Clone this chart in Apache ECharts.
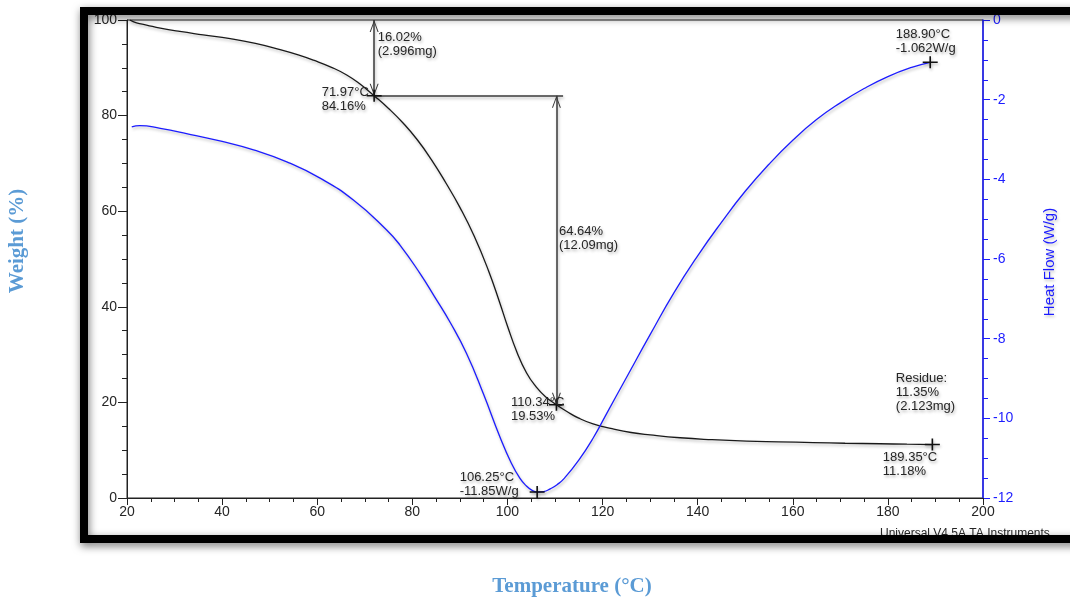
<!DOCTYPE html>
<html>
<head>
<meta charset="utf-8">
<title>TGA / DSC</title>
<script src="https://cdn.jsdelivr.net/npm/echarts@6/dist/echarts.min.js"></script>
<style>
  html, body { margin: 0; padding: 0; background: #fff; }
  #chart { width: 1070px; height: 597px; }
</style>
</head>
<body>
<div id="chart"></div>
<script>
// weight loss curve, [temperature °C, weight %]
const weightCurve = [
  [20.6, 100], [22, 99.4], [24.1, 98.95], [27, 98.3], [31.1, 97.6], [36, 96.9],
  [41.7, 96.1], [47, 95.1], [52.2, 93.8], [56, 92.7], [59.2, 91.6], [63, 90.1],
  [66.2, 88.5], [69, 86.6], [71.97, 84.16], [75, 81.5], [78, 78.5], [81, 75.0],
  [84, 70.8], [87, 66.0], [90, 60.8], [93, 54.8], [96, 47.6], [98.4, 40.8],
  [100, 36.0], [102, 30.5], [104, 26.2], [106, 23.3], [108, 21.2], [110.3, 19.53],
  [112.5, 18.1], [115, 16.7], [118, 15.5], [122, 14.5], [126, 13.7], [130, 13.2],
  [136.3, 12.6], [143, 12.2], [150.3, 11.9], [157, 11.75], [164.3, 11.6],
  [171, 11.45], [178.3, 11.35], [184, 11.25], [189.35, 11.18]
];

// heat flow curve, [temperature °C, W/g]
const heatCurve = [
  [21, -2.68], [22.7, -2.65], [27, -2.72], [32.5, -2.85], [40, -3.05], [46.6, -3.26],
  [53.6, -3.56], [60.6, -3.97], [67.6, -4.52], [74.6, -5.27], [77.4, -5.65], [81.6, -6.36],
  [84.6, -6.93], [88, -7.6], [91.4, -8.37], [94.9, -9.37], [98.4, -10.46], [100.8, -11.12],
  [102.6, -11.5], [104, -11.7], [105.2, -11.81], [106.25, -11.85], [107.6, -11.84],
  [109, -11.77], [110.5, -11.66], [112, -11.5], [115, -11.05],
  [118, -10.5], [121, -9.85], [125, -8.98], [130, -7.9], [135, -6.85], [140, -5.92],
  [145, -5.08], [150, -4.3], [155, -3.62], [160, -3.02], [165, -2.5], [170, -2.08],
  [175, -1.72], [180, -1.42], [185, -1.19], [188.9, -1.062]
];

// step analysis
const stepOnset = [71.97, 84.16];
const stepEnd = [110.3, 19.53];
const residuePoint = [189.35, 11.18];
const stepTop = 100;
const stepRight = 111.7;
const peakPoint = [106.25, -11.85];
const endHeat = [188.9, -1.062];

const labelOnset = '71.97°C\n84.16%';
const labelEnd = '110.34°C\n19.53%';
const labelStep1 = '16.02%\n(2.996mg)';
const labelStep2 = '64.64%\n(12.09mg)';
const labelResidue = 'Residue:\n11.35%\n(2.123mg)';
const labelResiduePt = '189.35°C\n11.18%';
const labelPeak = '106.25°C\n-11.85W/g';
const labelEndHeat = '188.90°C\n-1.062W/g';

const xRange = [20, 200, 20];
const weightRange = [0, 100, 20];
const heatRange = [-12, 0, 2];

const BLUE = '#1c1cff';
const INK = '#262626';
const SANS = 'Liberation Sans, Arial, sans-serif';
const plusPath = 'path://M0,5.25 L14,5.25 L14,6.75 L0,6.75 Z M6.25,0 L7.75,0 L7.75,12 L6.25,12 Z';
const arrowPath = 'path://M5,0 L5.02,0 L5,0.02 Z M5,12 L10,24 L8.8,24 L5,14.6 L1.2,24 L0,24 Z';
const shadow = { shadowColor: 'rgba(0,0,0,0.28)', shadowBlur: 3, shadowOffsetX: 1, shadowOffsetY: 2 };

function note(coord, text, offset) {
  return {
    coord: coord,
    symbol: 'circle',
    symbolSize: 1,
    itemStyle: { color: 'rgba(0,0,0,0)' },
    label: {
      show: true,
      formatter: text,
      position: offset,
      align: 'left',
      verticalAlign: 'middle',
      fontSize: 13,
      lineHeight: 14,
      fontFamily: SANS,
      color: INK,
      textShadowColor: 'rgba(0,0,0,0.3)',
      textShadowBlur: 3,
      textShadowOffsetX: 1,
      textShadowOffsetY: 2
    }
  };
}

function cross(coord) {
  return { coord: coord, symbol: plusPath, symbolSize: [15, 12], itemStyle: Object.assign({ color: '#111' }, shadow), label: { show: false } };
}

const chart = echarts.init(document.getElementById('chart'));

const option = {
  animation: false,
  backgroundColor: '#fff',
  grid: {
    left: 127, right: 87, top: 20, bottom: 99,
    show: true, borderColor: '#222', borderWidth: 1, backgroundColor: '#fff'
  },
  xAxis: {
    type: 'value',
    min: xRange[0], max: xRange[1], interval: xRange[2],
    axisLine: { show: true, lineStyle: { color: '#222', width: 1 } },
    axisTick: { show: true, length: 7, lineStyle: { color: '#222' } },
    minorTick: { show: true, splitNumber: 4, length: 4, lineStyle: { color: '#222' } },
    splitLine: { show: false },
    axisLabel: { color: INK, fontSize: 14, fontFamily: SANS, margin: 7 }
  },
  yAxis: [
    {
      type: 'value',
      min: weightRange[0], max: weightRange[1], interval: weightRange[2],
      axisLine: { show: true, lineStyle: { color: '#222', width: 1 } },
      axisTick: { show: true, length: 9, lineStyle: { color: '#222' } },
      minorTick: { show: true, splitNumber: 4, length: 5, lineStyle: { color: '#222' } },
      splitLine: { show: false },
      axisLabel: { color: INK, fontSize: 14, fontFamily: SANS, margin: 10 }
    },
    {
      type: 'value',
      position: 'right',
      min: heatRange[0], max: heatRange[1], interval: heatRange[2],
      axisLine: { show: true, lineStyle: { color: BLUE, width: 1.5 } },
      axisTick: { show: true, length: 7, lineStyle: { color: BLUE } },
      minorTick: { show: true, splitNumber: 4, length: 5, lineStyle: { color: BLUE } },
      splitLine: { show: false },
      axisLabel: { color: BLUE, fontSize: 14, fontFamily: SANS, margin: 10 }
    }
  ],
  series: [
    {
      name: 'Weight',
      type: 'line',
      yAxisIndex: 0,
      data: weightCurve,
      smooth: 0.5,
      showSymbol: false,
      lineStyle: Object.assign({ color: '#1a1a1a', width: 1.3 }, shadow),
      markLine: {
        silent: true,
        animation: false,
        label: { show: false },
        symbol: ['none', 'none'],
        lineStyle: Object.assign({ color: '#3a3a3a', width: 1.5, type: 'solid' }, shadow),
        data: [
          [
            { coord: [stepOnset[0], stepTop], symbol: arrowPath, symbolSize: [9, 24] },
            { coord: stepOnset, symbol: arrowPath, symbolSize: [9, 24] }
          ],
          [
            { coord: stepOnset, symbol: 'none' },
            { coord: [stepRight, stepOnset[1]], symbol: 'none' }
          ],
          [
            { coord: [stepEnd[0], stepOnset[1]], symbol: arrowPath, symbolSize: [9, 24] },
            { coord: stepEnd, symbol: arrowPath, symbolSize: [9, 24] }
          ]
        ]
      },
      markPoint: {
        silent: true,
        animation: false,
        data: [
          cross(stepOnset),
          cross(stepEnd),
          cross(residuePoint),
          note([stepOnset[0], stepTop], labelStep1, [4, 25]),
          note(stepOnset, labelOnset, [-52, 4]),
          note([stepEnd[0], stepOnset[1]], labelStep2, [3, 143]),
          note(stepEnd, labelEnd, [-45, 5]),
          note(residuePoint, labelResidue, [-36, -52]),
          note(residuePoint, labelResiduePt, [-49, 20])
        ]
      }
    },
    {
      name: 'Heat Flow',
      type: 'line',
      yAxisIndex: 1,
      data: heatCurve,
      smooth: 0.5,
      showSymbol: false,
      lineStyle: Object.assign({ color: BLUE, width: 1.3 }, shadow),
      markPoint: {
        silent: true,
        animation: false,
        data: [
          cross(peakPoint),
          cross(endHeat),
          note(peakPoint, labelPeak, [-77, -7]),
          note(endHeat, labelEndHeat, [-34, -20])
        ]
      }
    }
  ],
  graphic: [
    {
      type: 'text', left: 880, top: 528, z: 5,
      style: { text: 'Universal V4.5A TA Instruments', fontSize: 12, fontFamily: SANS, fill: INK }
    },
    {
      type: 'rect', z: 50, silent: true,
      shape: { x: 84, y: 11, width: 1020, height: 528 },
      style: { fill: 'none', stroke: '#000', lineWidth: 8, shadowBlur: 8, shadowColor: 'rgba(0,0,0,0.55)', shadowOffsetX: 1, shadowOffsetY: 3 }
    },
    {
      type: 'text', x: 18, y: 241, rotation: Math.PI / 2,
      style: { text: 'Weight (%)', fontSize: 21, fontWeight: 'bold', fontFamily: 'Liberation Serif, Times New Roman, serif', fill: '#5b9bd5', align: 'center', verticalAlign: 'middle' }
    },
    {
      type: 'text', x: 572, y: 587,
      style: { text: 'Temperature (°C)', fontSize: 21, fontWeight: 'bold', fontFamily: 'Liberation Serif, Times New Roman, serif', fill: '#5b9bd5', align: 'center', verticalAlign: 'middle' }
    },
    {
      type: 'text', x: 1050, y: 262, rotation: Math.PI / 2,
      style: { text: 'Heat Flow (W/g)', fontSize: 15, fontFamily: SANS, fill: BLUE, align: 'center', verticalAlign: 'middle', textShadowColor: 'rgba(0,0,0,0.25)', textShadowBlur: 3, textShadowOffsetX: 1, textShadowOffsetY: 2 }
    }
  ]
};

chart.setOption(option);
</script>
</body>
</html>
